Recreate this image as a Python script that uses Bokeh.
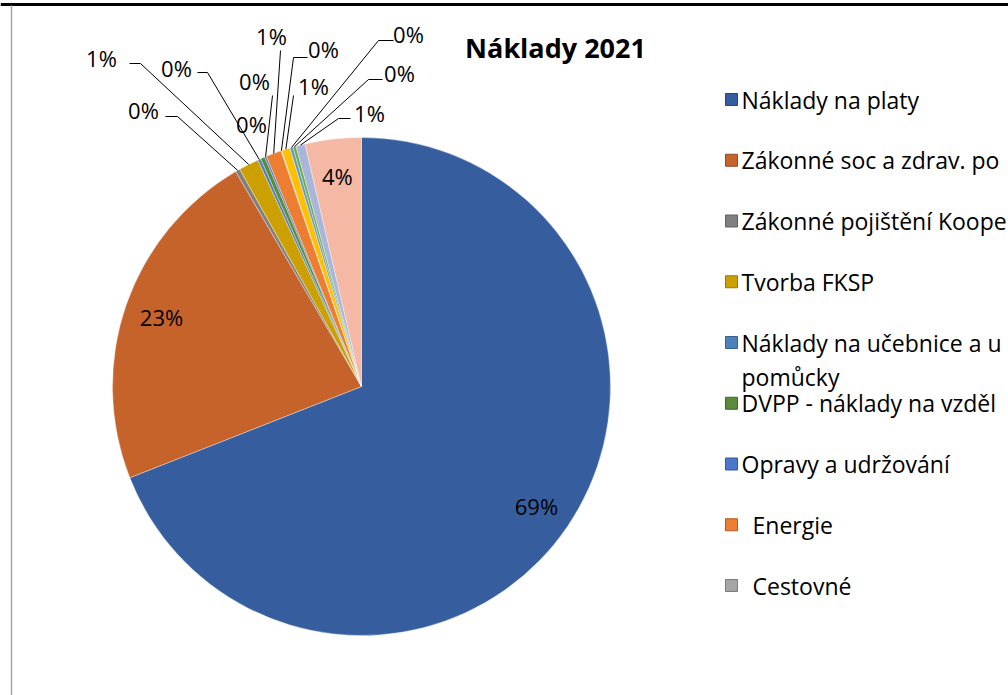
import math
from bokeh.plotting import figure
from bokeh.models import Range1d, ColumnDataSource
from bokeh.core.properties import value
from bokeh.embed import file_html
from bokeh.resources import INLINE

# ---------------- data ----------------
title = "Náklady 2021"
# legend entries as visible in the (cropped) reference
legend_lines = [
    ["Náklady na platy"],
    ["Zákonné soc a zdrav. po"],
    ["Zákonné pojištění Koope"],
    ["Tvorba FKSP"],
    ["Náklady na učebnice  a u", "pomůcky"],
    ["DVPP - náklady na vzděl"],
    ["Opravy a udržování"],
    ["Energie"],
    ["Cestovné"],
]
# share of each slice (percent), clockwise from 12 o'clock
shares = [69.2, 22.6, 0.3, 1.3, 0.2, 0.28, 0.12, 1.0, 0.05, 0.55, 0.2, 0.2, 0.6, 3.65]
colors = ["#365E9F", "#C6632B", "#808080", "#CCA000", "#4E80BC", "#5A8A3A", "#4A77CB",
          "#ED7D31", "#A5A5A5", "#FFC000", "#5B9BD5", "#70AD47", "#A9B6DC", "#F4B8A4"]

# ---------------- layout (pixels) ----------------
W, H = 1008, 695
CX, CY, R = 361, 386, 249
LABEL_R = 0.85
FONT = "Open Sans"
legend_indent = [0, 0, 0, 0, 0, 0, 0, 11, 11]

def Y(py):
    return H - py

# small-slice label placement: text centre, optional leader start / elbow points
small_layout = {
    2: ((143, 109), [(165, 116), (177, 116)]),
    3: ((101, 57), [(129, 63), (140, 63)]),
    4: ((176, 67), [(197, 72), (207, 72)]),
    5: ((251, 123), None),
    6: ((254, 80), [(272, 95)]),
    7: ((271, 35), [(280, 50)]),
    8: ((323, 48), [(307, 57), (293, 57)]),
    9: ((313, 85), [(293, 95)]),
    10: ((408, 33), [(393, 40), (378, 40)]),
    11: ((399, 72), [(382, 79), (368, 79)]),
    12: ((369, 112), [(350, 118), (338, 118)]),
}

p = figure(width=W, height=H, output_backend="svg", toolbar_location=None,
           x_range=Range1d(0, W), y_range=Range1d(0, H), min_border=0)
p.axis.visible = False
p.grid.visible = False
p.outline_line_color = None
p.background_fill_color = "white"
p.border_fill_color = "white"

# frame fragments of the sheet
p.line([0, W], [Y(4), Y(4)], line_color="black", line_width=3)
p.line([11, 11], [Y(5), Y(H)], line_color="#A6A6A6", line_width=1.5)

total = sum(shares)
fr = [s / total for s in shares]
cum = [0.0]
for f in fr:
    cum.append(cum[-1] + f)
start = [math.pi / 2 - 2 * math.pi * cum[i + 1] for i in range(len(fr))]
end = [math.pi / 2 - 2 * math.pi * cum[i] for i in range(len(fr))]
src = ColumnDataSource(dict(x=[CX] * len(fr), y=[Y(CY)] * len(fr), start=start, end=end, color=colors))
p.wedge(x="x", y="y", radius=R, start_angle="start", end_angle="end", direction="anticlock",
        fill_color="color", line_color="white", line_width=0.5, line_alpha=0.7, source=src)

labels = [f"{round(f * 100)}%" for f in fr]
mid = [(cum[i] + cum[i + 1]) / 2 * 2 * math.pi for i in range(len(fr))]  # clockwise from top

# big labels inside
bx, by, bt = [], [], []
for i in range(len(fr)):
    if i in small_layout:
        continue
    bx.append(CX + LABEL_R * R * math.sin(mid[i]))
    by.append(Y(CY) + LABEL_R * R * math.cos(mid[i]))
    bt.append(labels[i])
p.text(bx, by, text=bt, text_font=value(FONT), text_font_size="22px", text_color="black",
       text_align="center", text_baseline="middle")

# small labels with leaders
sx, sy, st = [], [], []
for i, ((tx, ty), pts) in small_layout.items():
    sx.append(tx)
    sy.append(Y(ty))
    st.append(labels[i])
    if pts:
        ex = CX + R * math.sin(mid[i])
        ey = Y(CY) + R * math.cos(mid[i])
        xs = [q[0] for q in pts] + [ex]
        ys = [Y(q[1]) for q in pts] + [ey]
        p.line(xs, ys, line_color="black", line_width=1)
p.text(sx, sy, text=st, text_font=value(FONT), text_font_size="22px", text_color="black",
       text_align="center", text_baseline="middle")

# title
p.text([555], [Y(47)], text=[title], text_font=value(FONT), text_font_size="27px",
       text_font_style="bold", text_color="black", text_align="center", text_baseline="middle")

# legend
def darker(c, k=0.75):
    r, g, b = int(c[1:3], 16), int(c[3:5], 16), int(c[5:7], 16)
    return "#%02x%02x%02x" % (int(r * k), int(g * k), int(b * k))

for i, lines in enumerate(legend_lines):
    ry = 99 + 60.75 * i
    p.rect([731], [Y(ry)], width=12, height=12, fill_color=colors[i], line_color=darker(colors[i]), line_width=1)
    for j, line in enumerate(lines):
        p.text([741 + legend_indent[i]], [Y(ry + 34 * j)], text=[line], text_font=value(FONT),
               text_font_size="23px", text_color="black", text_align="left", text_baseline="middle")

open("out.html", "w").write(file_html(p, INLINE))
